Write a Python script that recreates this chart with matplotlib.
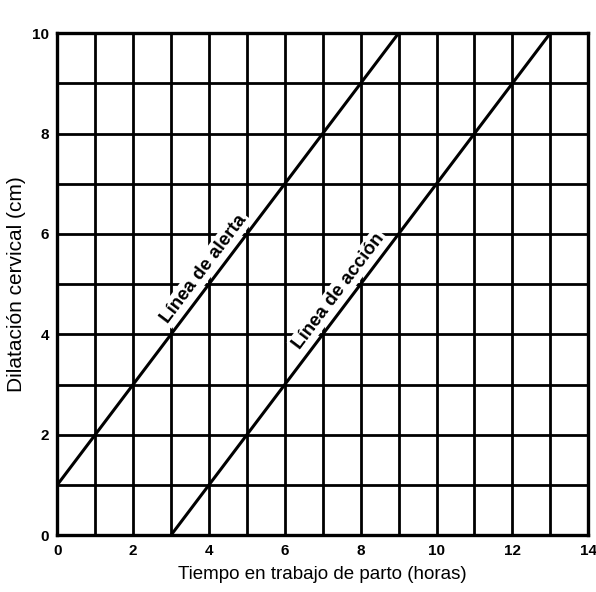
import numpy as np
import matplotlib.pyplot as plt

plt.rcParams['font.family'] = ['Liberation Sans', 'DejaVu Sans']

# --- datos ---
alerta_x = [0, 9]
alerta_y = [1, 10]
accion_x = [3, 13]
accion_y = [0, 10]
x_ticks = [0, 2, 4, 6, 8, 10, 12, 14]
y_ticks = [0, 2, 4, 6, 8, 10]

fig = plt.figure(figsize=(5.96, 5.92), dpi=100)
ax = fig.add_axes([0.096, 0.096, 0.891, 0.848])

# cuadricula
for xv in range(0, 15):
    ax.axvline(xv, color="black", lw=2.0, zorder=1)
for yv in range(0, 11):
    ax.axhline(yv, color="black", lw=2.0, zorder=1)

# lineas de alerta / accion (encima del texto)
ax.plot(alerta_x, alerta_y, color="black", lw=2.2, zorder=4)
ax.plot(accion_x, accion_y, color="black", lw=2.2, zorder=4)

ax.set_xlim(0, 14)
ax.set_ylim(0, 10)
ax.set_xticks(x_ticks)
ax.set_yticks(y_ticks)
ax.tick_params(length=0, labelsize=11, pad=6)
for lbl in ax.get_xticklabels() + ax.get_yticklabels():
    lbl.set_fontweight("bold")
for s in ax.spines.values():
    s.set_linewidth(2.4)

# angulo en pantalla
fig.canvas.draw()
p0 = ax.transData.transform((0, 1))
p1 = ax.transData.transform((9, 10))
ang = np.degrees(np.arctan2(p1[1] - p0[1], p1[0] - p0[0]))
off = 3.5  # separacion perpendicular (pt)
dx = -np.sin(np.radians(ang)) * off
dy = np.cos(np.radians(ang)) * off

# etiquetas sobre las lineas
for xc, x0, y0, txt in [(4.15, 0, 1, "Línea de alerta"), (7.7, 3, 0, "Línea de acción")]:
    yc = y0 + (xc - x0)
    ax.annotate(txt, xy=(xc, yc), xytext=(dx, dy), textcoords="offset points",
                rotation=ang, rotation_mode="anchor", ha="center", va="bottom",
                fontsize=13.5, fontweight="bold",
                bbox=dict(facecolor="white", edgecolor="none", pad=1.5), zorder=3)

ax.set_xlabel("Tiempo en trabajo de parto (horas)", fontsize=13.5, labelpad=6)
ax.set_ylabel("Dilatación cervical (cm)", fontsize=15, labelpad=4)

fig.savefig("out.png", dpi=100)
